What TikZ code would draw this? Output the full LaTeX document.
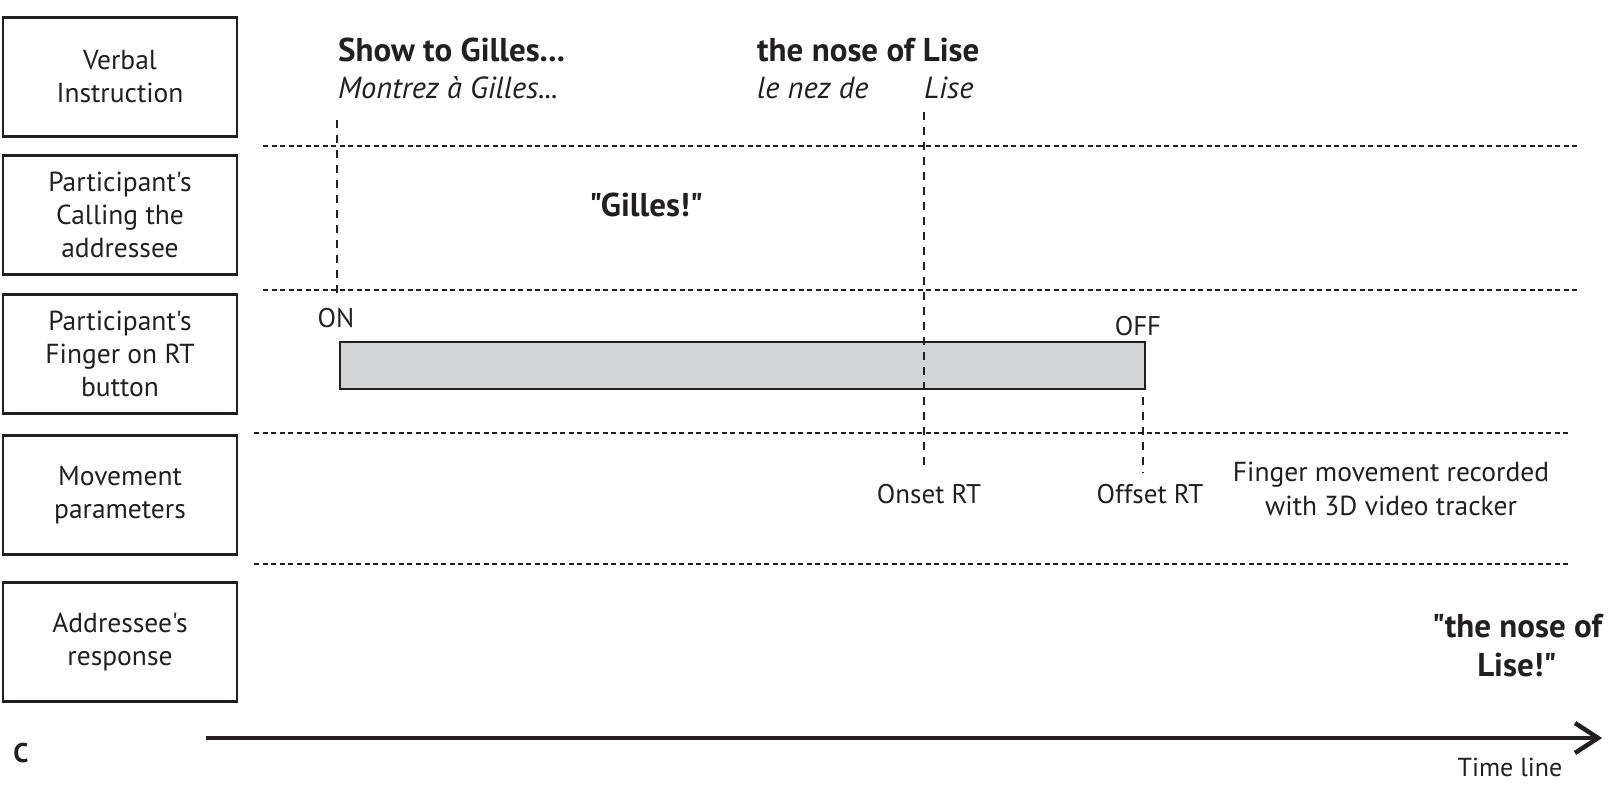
\documentclass[tikz,border=0pt]{standalone}
\usepackage{fontspec}
\setmainfont{PT Sans}[Ligatures=TeXOff]
\definecolor{ink}{HTML}{231F20}
\definecolor{barfill}{HTML}{D3D4D6}
\begin{document}
\begin{tikzpicture}[x=1pt,y=-1pt,
  every node/.style={text=ink, inner sep=0pt},
  rowbox/.style={draw=ink, line width=2.5pt, minimum width=234pt, minimum height=119pt, align=center, font=\fontsize{27.5}{33}\selectfont},
  sep/.style={draw=ink, line width=1.2pt, dash pattern=on 5pt off 3.5pt},
  vline/.style={draw=ink, line width=2pt, dash pattern=on 8pt off 7pt},
  lbl/.style={font=\fontsize{27}{33}\selectfont, anchor=base},
  head/.style={font=\bfseries\fontsize{33}{33}\selectfont, anchor=base west},
  sub/.style={font=\itshape\fontsize{30.5}{33}\selectfont, anchor=base west},
  quote/.style={font=\bfseries\fontsize{33}{39}\selectfont, align=center}]
\useasboundingbox (0,0) rectangle (1615,793);

% row boxes
\node[rowbox] (b1) at (120,77) {Verbal\\Instruction};
\node[rowbox] (b2) at (120,215) {Participant's\\Calling the\\addressee};
\node[rowbox] (b3) at (120,354) {Participant's\\Finger on RT\\button};
\node[rowbox] (b4) at (120,495) {Movement\\parameters};
\node[rowbox] (b5) at (120,642) {Addressee's\\response};

% horizontal separators
\coordinate (s1a) at (263,146); \coordinate (s1b) at (1578,146);
\coordinate (s2a) at (263,290); \coordinate (s2b) at (1578,290);
\coordinate (s3a) at (254,433); \coordinate (s3b) at (1571,433);
\coordinate (s4a) at (254,564); \coordinate (s4b) at (1571,564);
\draw[sep] (s1a) -- (s1b);
\draw[sep] (s2a) -- (s2b);
\draw[sep] (s3a) -- (s3b);
\draw[sep] (s4a) -- (s4b);

% finger on button bar
\node[draw=ink, fill=barfill, line width=2pt, minimum width=805pt, minimum height=47pt, anchor=north west] (bar) at (339,341) {};

% vertical markers
\coordinate (v1a) at (337,120); \coordinate (v1b) at (337,297);
\coordinate (v2a) at (924,112); \coordinate (v2b) at (924,471);
\coordinate (v3a) at (1143,397); \coordinate (v3b) at (1143,473);
\draw[vline] (v1a) -- (v1b);
\draw[vline] (v2a) -- (v2b);
\draw[vline] (v3a) -- (v3b);

% instruction texts
\node[head] (show) at (338,61) {Show to Gilles...};
\node[sub] (montrez) at (338,98) {Montrez à Gilles...};
\node[head] (nose) at (757,61) {the nose of Lise};
\node[sub] (nez) at (757,98) {le nez de};
\node[sub] (lise) at (924,98) {Lise};

\node[font=\bfseries\fontsize{33}{33}\selectfont, anchor=base] (gilles) at (646,216) {"Gilles!"};

\node[lbl] (on) at (336,327) {ON};
\node[lbl] (off) at (1138,335) {OFF};
\node[lbl] (onset) at (929,503) {Onset RT};
\node[lbl] (offset) at (1150,503) {Offset RT};
\node[font=\fontsize{27.5}{34}\selectfont, align=center, anchor=base] (finger) at (1391,515) {Finger movement recorded\\with 3D video tracker};

\node[quote, anchor=base] (resp) at (1517,676) {"the nose of\\Lise!"};

% time line
\node[font=\bfseries\fontsize{27}{33}\selectfont, anchor=base] (c) at (21,762) {C};
\coordinate (t0) at (206,738);
\coordinate (t1) at (1598,738);
\draw[draw=ink, line width=4.5pt] (t0) -- (t1);
\draw[draw=ink, line width=4.5pt, line join=miter] ([shift={(-23,-15)}]t1) -- (t1) -- ([shift={(-23,15)}]t1);
\node[font=\fontsize{26}{33}\selectfont, anchor=base] (tl) at (1510,776) {Time line};
\end{tikzpicture}
\end{document}
